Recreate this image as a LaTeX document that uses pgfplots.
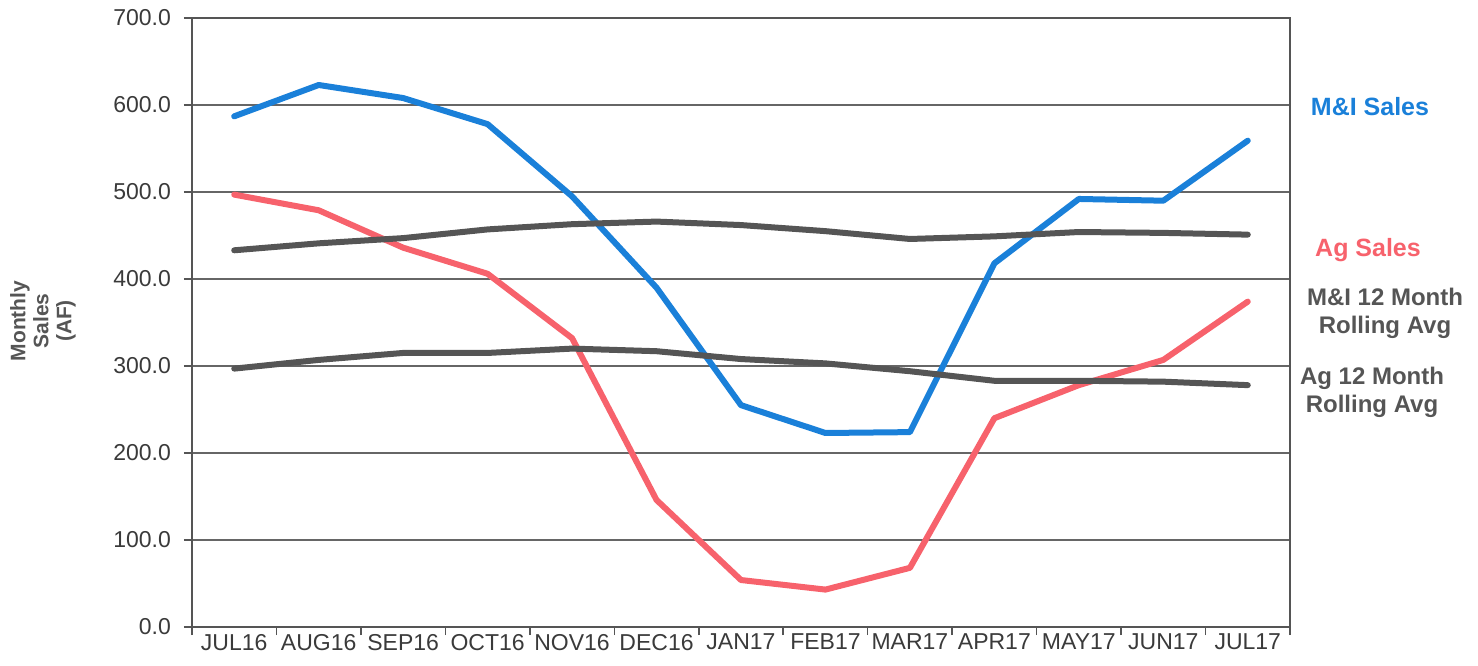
\documentclass[border=0pt]{standalone}
\usepackage{pgfplots}
\pgfplotsset{compat=1.18}
\usepackage{fontspec}
\setmainfont{Liberation Sans}
\definecolor{miblue}{HTML}{1A80D9}
\definecolor{agred}{HTML}{F7626C}
\definecolor{avggray}{HTML}{555555}
\definecolor{txtgray}{HTML}{3A3A3A}
\begin{document}
\begin{tikzpicture}
\useasboundingbox (-96pt,-19pt) rectangle (643pt,313.5pt);
\begin{axis}[
  at={(0,0)}, anchor=south west,
  scale only axis, width=549pt, height=304.5pt,
  xmin=-0.5, xmax=12.5, ymin=0, ymax=700,
  xtick={0,...,12},
  xticklabels={JUL16,AUG16,SEP16,OCT16,NOV16,DEC16,JAN17,FEB17,MAR17,APR17,MAY17,JUN17,JUL17},
  minor xtick={-0.5,0.5,...,12.5},
  major x tick style={draw=none},
  ytick={0,100,...,700},
  ymajorgrids=true,
  grid style={draw=black!60, line width=0.6pt},
  axis line style={draw=avggray, line width=1pt},
  tick style={draw=avggray, line width=0.8pt},
  tick align=outside, tick pos=left,
  major tick length=4pt, minor tick length=4pt,
  ticklabel style={font=\fontsize{11.5}{13}\selectfont, text=txtgray},
  /pgf/number format/assume math mode=true,
  yticklabel style={xshift=-3pt, /pgf/number format/.cd, fixed, fixed zerofill, precision=1},
  xticklabel style={yshift=4pt},
  clip=false,
]
\addplot[miblue, line width=3pt, line join=round, line cap=round] coordinates {
(0,587) (1,623) (2,608) (3,578) (4,495) (5,390) (6,255) (7,223) (8,224) (9,418) (10,492) (11,490) (12,559)};
\addplot[agred, line width=3pt, line join=round, line cap=round] coordinates {
(0,497) (1,479) (2,436) (3,406) (4,332) (5,146) (6,54) (7,43) (8,68) (9,240) (10,278) (11,307) (12,374)};
\addplot[avggray, line width=3pt, line join=round, line cap=round] coordinates {
(0,433) (1,441) (2,447) (3,457) (4,463) (5,466) (6,462) (7,455) (8,446) (9,449) (10,454) (11,453) (12,451)};
\addplot[avggray, line width=3pt, line join=round, line cap=round] coordinates {
(0,297) (1,307) (2,315) (3,315) (4,320) (5,317) (6,308) (7,303) (8,294) (9,283) (10,283) (11,282) (12,278)};
\end{axis}
\node[font=\fontsize{12.5}{14}\selectfont\bfseries, text=miblue] at (589pt,260pt) {M\&I Sales};
\node[font=\fontsize{12.5}{14}\selectfont\bfseries, text=agred] at (588pt,188.5pt) {Ag Sales};
\node[font=\fontsize{12}{14}\selectfont\bfseries, text=avggray, align=center] at (596.5pt,157pt) {M\&I 12 Month\\Rolling Avg};
\node[font=\fontsize{12}{14}\selectfont\bfseries, text=avggray, align=center] at (590pt,117.5pt) {Ag 12 Month\\Rolling Avg};
\node[font=\fontsize{10.5}{11.5}\selectfont\bfseries, text=avggray, align=center, rotate=90, inner sep=0pt] at (-74.5pt,153pt) {Monthly\\Sales\\(AF)};
\end{tikzpicture}
\end{document}
